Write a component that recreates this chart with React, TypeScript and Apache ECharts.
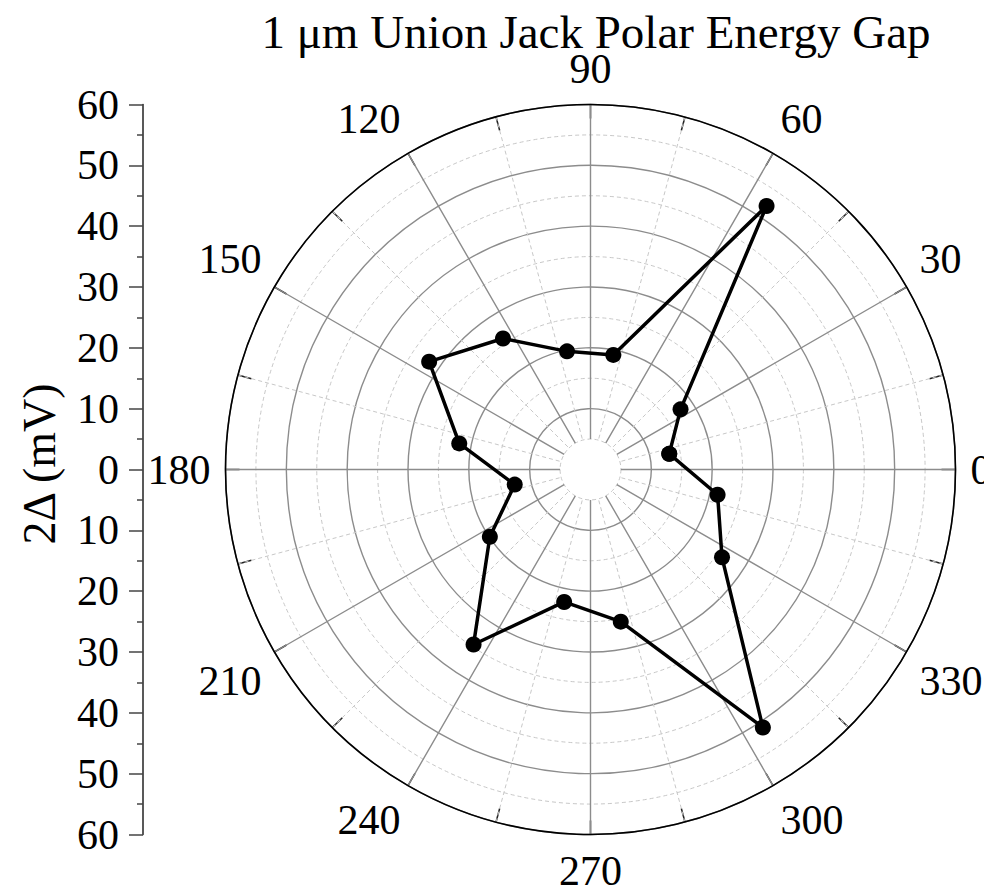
import React, { useEffect, useRef } from "react";
import * as echarts from "echarts";

const TITLE = "1 μm Union Jack Polar Energy Gap";
const AXIS_NAME = "2Δ (mV)";
const angles = [11.25, 33.75, 56.25, 78.75, 101.25, 123.75, 146.25, 168.75, 191.25, 213.75, 236.25, 258.75, 281.25, 303.75, 326.25, 348.75];
const gap = [13.2, 17.8, 52.1, 19.2, 19.8, 25.9, 31.9, 22.0, 12.7, 19.9, 34.6, 22.2, 25.5, 51.0, 26.0, 21.3];
const angleTickStep = 30;
const radialMax = 60;
const radialHole = 5;
const radialStep = 10;

const FONT = '"Liberation Serif", "Times New Roman", serif';

export default function App() {
  const ref = useRef<HTMLDivElement>(null);
  useEffect(() => {
    if (!ref.current) return;
    const chart = echarts.init(ref.current, undefined, { renderer: "svg" });
    const cx = 590.5;
    const cy = 469.5;
    const R = 365;
    const r0 = (R * radialHole) / radialMax;
    const pts = angles.map((a, i) => [gap[i], a]);
    pts.push([gap[0], angles[0]]);
    const solid = "#8c8c8c";
    const dash = "#c8c8c8";
    chart.setOption({
      animation: false,
      backgroundColor: "#fff",
      title: {
        text: TITLE,
        left: 591,
        top: 3,
        textAlign: "center",
        textStyle: { fontSize: 47, fontWeight: "normal", fontFamily: FONT, color: "#000" },
      },
      graphic: {
        elements: [
          {
            type: "text",
            x: 39,
            y: 464,
            rotation: Math.PI / 2,
            style: {
              text: AXIS_NAME,
              fontSize: 46,
              fontFamily: FONT,
              fill: "#000",
              align: "center",
              verticalAlign: "middle",
              textAlign: "center",
              textVerticalAlign: "middle",
            },
          },
        ],
      },
      polar: [
        { center: [cx, cy], radius: [r0, R] },
        { center: [cx, cy], radius: [0, R] },
      ],
      angleAxis: [
        {
          polarIndex: 0,
          type: "value",
          min: 0,
          max: 360,
          interval: angleTickStep,
          startAngle: 0,
          clockwise: false,
          axisLine: { show: false },
          axisTick: { show: true, inside: true, length: 14, lineStyle: { color: "#222", width: 1.5 } },
          minorTick: { show: true, splitNumber: 2, length: 14, lineStyle: { color: "#222", width: 1.5 } },
          splitLine: { show: true, lineStyle: { color: solid, width: 1.4, type: "solid" } },
          minorSplitLine: { show: true, lineStyle: { color: dash, width: 1, type: [4, 3] } },
          axisLabel: { show: true, margin: 15, fontSize: 42, fontFamily: FONT, color: "#000" },
        },
        {
          polarIndex: 1,
          type: "value",
          min: 0,
          max: 360,
          startAngle: 0,
          clockwise: false,
          axisLine: { show: true, lineStyle: { color: "#000", width: 1.6 } },
          axisTick: { show: false },
          axisLabel: { show: false },
          splitLine: { show: false },
        },
      ],
      radiusAxis: [
        {
          polarIndex: 0,
          type: "value",
          min: radialHole,
          max: radialMax,
          interval: radialStep,
          z: -1,
          axisLine: { show: false },
          axisTick: { show: false },
          axisLabel: { show: false },
          splitLine: { show: true, lineStyle: { color: dash, width: 1, type: [4, 3] } },
        },
        {
          polarIndex: 1,
          type: "value",
          min: 0,
          max: radialMax,
          interval: radialStep,
          z: -1,
          axisLine: { show: false },
          axisTick: { show: false },
          axisLabel: { show: false },
          splitLine: { show: true, lineStyle: { color: solid, width: 1.4, type: "solid" } },
        },
      ],
      grid: { left: 143, top: cy - R, height: 2 * R, width: 10 },
      xAxis: { type: "value", show: false, gridIndex: 0 },
      yAxis: {
        type: "value",
        gridIndex: 0,
        min: -radialMax,
        max: radialMax,
        interval: radialStep,
        axisLine: { show: true, lineStyle: { color: "#222", width: 1.5 } },
        axisTick: { show: true, inside: false, length: 14, lineStyle: { color: "#444", width: 1.5 } },
        minorTick: { show: true, splitNumber: 2, length: 6, lineStyle: { color: "#444", width: 1.5 } },
        splitLine: { show: false },
        axisLabel: {
          margin: 24,
          fontSize: 42,
          fontFamily: FONT,
          color: "#000",
          formatter: (v: number) => String(Math.abs(v)),
        },
      },
      series: [
        {
          type: "line",
          coordinateSystem: "polar",
          polarIndex: 0,
          data: pts,
          symbol: "circle",
          symbolSize: 16,
          lineStyle: { color: "#000", width: 3.5 },
          itemStyle: { color: "#000" },
          z: 5,
        },
      ],
    });
    return () => chart.dispose();
  }, []);
  return (
    <div
      ref={ref}
      style={{ position: "fixed", left: 0, top: 0, width: 984, height: 893, background: "#fff" }}
    />
  );
}
